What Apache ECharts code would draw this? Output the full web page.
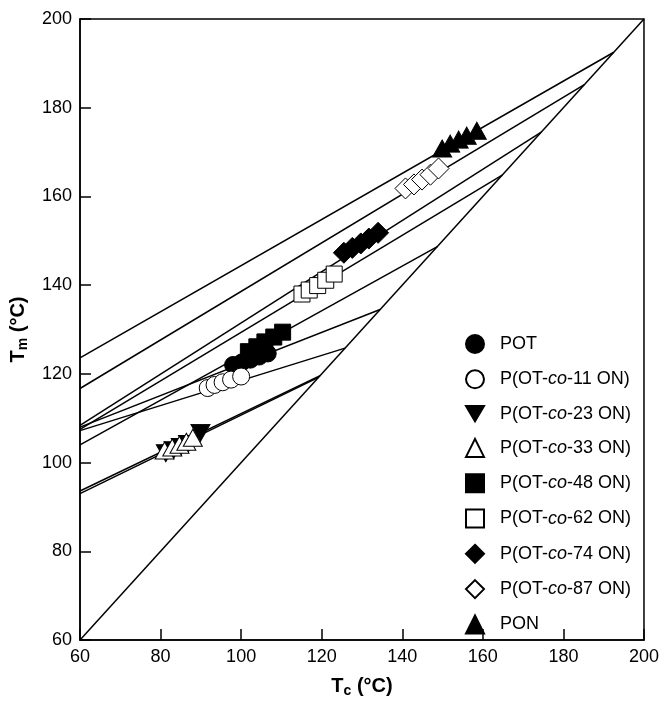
<!DOCTYPE html>
<html>
<head>
<meta charset="utf-8">
<script src="https://cdn.jsdelivr.net/npm/echarts@6/dist/echarts.min.js"></script>
<style>
  html, body { margin: 0; padding: 0; background: #fff; }
  #chart { width: 662px; height: 703px; }
</style>
</head>
<body>
<div id="chart"></div>
<script>
// Crystallization temperature Tc vs. melting temperature Tm (°C)
const names = ['POT', 'P(OT-co-11 ON)', 'P(OT-co-23 ON)', 'P(OT-co-33 ON)', 'P(OT-co-48 ON)',
               'P(OT-co-62 ON)', 'P(OT-co-74 ON)', 'P(OT-co-87 ON)', 'PON'];

const tcPOT  = [98.0, 100.2, 102.3, 104.5, 106.6];
const tmPOT  = [122.0, 122.6, 123.2, 123.9, 124.6];
const tc11   = [91.7, 93.4, 95.4, 97.5, 100.0];
const tm11   = [116.8, 117.5, 118.1, 118.7, 119.4];
const tc23   = [81.3, 83.2, 85.0, 86.8, 89.9];
const tm23   = [102.1, 102.8, 103.5, 104.2, 106.7];
const tc33   = [81.0, 82.9, 84.7, 86.4, 88.0];
const tm33   = [102.7, 103.4, 104.0, 104.7, 105.6];
const tc48   = [101.8, 103.9, 105.9, 108.1, 110.3];
const tm48   = [125.0, 126.1, 127.2, 128.3, 129.4];
const tc62   = [115.1, 116.9, 119.0, 121.0, 123.1];
const tm62   = [138.0, 138.9, 139.9, 141.1, 142.5];
const tc74   = [125.5, 127.6, 129.7, 131.7, 134.0];
const tm74   = [147.3, 148.4, 149.4, 150.5, 151.8];
const tc87   = [140.8, 142.9, 144.9, 147.0, 149.0];
const tm87   = [161.8, 162.7, 163.8, 164.9, 166.3];
const tcPON  = [149.9, 151.9, 154.0, 156.0, 158.5];
const tmPON  = [170.8, 171.9, 172.8, 173.7, 174.8];

// Hoffman–Weeks extrapolation: Tm at Tc = 60 and the equilibrium Tm0 on the Tm = Tc line
const hwStart = [108.0, 107.2, 93.6, 93.0, 104.0, 107.5, 108.4, 116.7, 123.6];
const hwTm0   = [134.5, 125.8, 119.6, 119.2, 148.7, 164.8, 174.5, 185.2, 192.5];

const diagonal = [60, 200];
const axisTicks = [60, 80, 100, 120, 140, 160, 180, 200];

const tcSets = [tcPOT, tc11, tc23, tc33, tc48, tc62, tc74, tc87, tcPON];
const tmSets = [tmPOT, tm11, tm23, tm33, tm48, tm62, tm74, tm87, tmPON];

const DOWN_TRIANGLE = 'path://M0,0 L20,0 L10,17 Z';

// marker look per composition
const looks = [
  { symbol: 'circle',   size: 17,       fill: '#000', rot: 0,   icon: 'circle' },
  { symbol: 'circle',   size: 17,       fill: '#fff', rot: 0,   icon: 'circle' },
  { symbol: 'triangle', size: [19, 17], fill: '#000', rot: 180, icon: DOWN_TRIANGLE },
  { symbol: 'triangle', size: [19, 17], fill: '#fff', rot: 0,   icon: 'triangle' },
  { symbol: 'rect',     size: 16,       fill: '#000', rot: 0,   icon: 'rect' },
  { symbol: 'rect',     size: 16,       fill: '#fff', rot: 0,   icon: 'rect' },
  { symbol: 'diamond',  size: 21,       fill: '#000', rot: 0,   icon: 'diamond' },
  { symbol: 'diamond',  size: 21,       fill: '#fff', rot: 0,   icon: 'diamond' },
  { symbol: 'triangle', size: [19, 17], fill: '#000', rot: 0,   icon: 'triangle' }
];

const FONT = 'Liberation Sans, Arial, Helvetica, sans-serif';

const series = [];

// extrapolation lines
hwStart.forEach((s, i) => {
  series.push({
    type: 'line',
    name: 'hw-' + i,
    data: [[60, s], [hwTm0[i], hwTm0[i]]],
    showSymbol: false,
    symbol: 'none',
    silent: true,
    lineStyle: { color: '#000', width: 1.5 },
    z: 2
  });
});

// Tm = Tc line
series.push({
  type: 'line',
  name: 'diag',
  data: diagonal.map(v => [v, v]),
  symbol: 'none',
  silent: true,
  lineStyle: { color: '#000', width: 1.5 },
  z: 2
});

// measured points
names.forEach((n, i) => {
  const lk = looks[i];
  series.push({
    type: 'scatter',
    name: n,
    data: tcSets[i].map((t, k) => [t, tmSets[i][k]]),
    symbol: lk.symbol,
    symbolSize: lk.size,
    symbolRotate: lk.rot,
    itemStyle: { color: lk.fill, borderColor: '#000', borderWidth: 1, opacity: 1 },
    z: 3
  });
});

function legendLabel(name) {
  const m = name.match(/^P\(OT-co-(\d+) ON\)$/);
  if (!m) return '{n|' + name + '}';
  return '{n|P(OT-}{i|co}{n|-' + m[1] + ' ON)}';
}

const chart = echarts.init(document.getElementById('chart'), null, { renderer: 'canvas' });
chart.setOption({
  animation: false,
  backgroundColor: '#fff',
  grid: { left: 80, right: 16, top: 19, bottom: 57, show: true, borderColor: '#000', borderWidth: 1.5, backgroundColor: 'transparent' },
  legend: {
    data: names.map((n, i) => ({ name: n, icon: looks[i].icon })),
    orient: 'vertical',
    left: 460,
    top: 329,
    itemWidth: 18,
    itemHeight: 18,
    itemGap: 15.3,
    formatter: legendLabel,
    textStyle: {
      color: '#000',
      fontFamily: FONT,
      fontSize: 18,
      padding: [0, 0, 0, 11],
      rich: {
        n: { fontFamily: FONT, fontSize: 18, color: '#000' },
        i: { fontFamily: FONT, fontSize: 18, color: '#000', fontStyle: 'italic' }
      }
    }
  },
  xAxis: {
    type: 'value',
    min: axisTicks[0],
    max: axisTicks[axisTicks.length - 1],
    interval: 20,
    name: '{b|T}{s|c}{b| (°C)}',
    nameLocation: 'middle',
    nameGap: 34,
    nameTextStyle: {
      rich: {
        b: { fontFamily: FONT, fontSize: 20, fontWeight: 'bold', color: '#000' },
        s: { fontFamily: FONT, fontSize: 14, fontWeight: 'bold', color: '#000', padding: [10, 0, 0, 0] }
      }
    },
    axisLine: { lineStyle: { color: '#000', width: 1.5 } },
    axisTick: { inside: true, length: 11, lineStyle: { color: '#000', width: 1.5 } },
    axisLabel: { color: '#000', fontFamily: FONT, fontSize: 18, margin: 8 },
    splitLine: { show: false }
  },
  yAxis: {
    type: 'value',
    min: axisTicks[0],
    max: axisTicks[axisTicks.length - 1],
    interval: 20,
    name: '{b|T}{s|m}{b| (°C)}',
    nameLocation: 'middle',
    nameGap: 50,
    nameRotate: 90,
    nameTextStyle: {
      rich: {
        b: { fontFamily: FONT, fontSize: 20, fontWeight: 'bold', color: '#000' },
        s: { fontFamily: FONT, fontSize: 14, fontWeight: 'bold', color: '#000', padding: [10, 0, 0, 0] }
      }
    },
    axisLine: { lineStyle: { color: '#000', width: 1.5 } },
    axisTick: { inside: true, length: 11, lineStyle: { color: '#000', width: 1.5 } },
    axisLabel: { color: '#000', fontFamily: FONT, fontSize: 18, margin: 8 },
    splitLine: { show: false }
  },
  series: series
});
</script>
</body>
</html>
